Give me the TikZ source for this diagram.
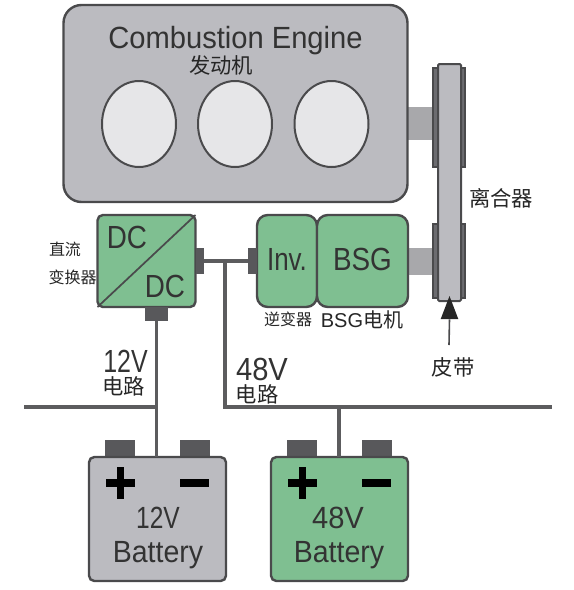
\documentclass[tikz,border=0pt]{standalone}
\usepackage{fontspec}
\usepackage{graphicx}
\usetikzlibrary{shapes.geometric}
\setmainfont{Liberation Sans}
\newfontfamily\cjk{Noto Sans CJK SC}
\newcommand{\sx}[2]{\scalebox{#1}[1]{#2}}
\definecolor{greyfill}{HTML}{BBBBC0}
\definecolor{greenfill}{HTML}{7FBF91}
\definecolor{edgec}{HTML}{4A4A4C}
\definecolor{shaftc}{HTML}{A8A8AB}
\definecolor{pulleyc}{HTML}{6C6C70}
\definecolor{termc}{HTML}{58585B}
\definecolor{labelc}{HTML}{333333}
\definecolor{cylc}{HTML}{E6E6E8}
\tikzset{
  sz/.style 2 args={minimum width=#1*0.75pt,minimum height=#2*0.75pt,inner sep=0pt,outer sep=0pt},
  greybox/.style={draw=edgec,line width=1.8pt,fill=greyfill},
  greenbox/.style={draw=edgec,line width=1.8pt,fill=greenfill},
  shaftbox/.style={draw=none,fill=shaftc},
  pulleybox/.style={draw=edgec,line width=0.8pt,fill=pulleyc},
  termbox/.style={draw=none,fill=termc},
  wire/.style={draw=edgec!90!white,line width=2.3pt},
  lat/.style={anchor=base,font=\fontsize{#1}{26}\selectfont,text=labelc,inner sep=0pt},
  zh/.style={font=\cjk\fontsize{16}{18}\selectfont,text=black!85,inner sep=0pt},
  zhs/.style={font=\cjk\fontsize{12}{14}\selectfont,text=black!85,inner sep=0pt},
  sign/.style={fill=black,draw=none,inner sep=0pt,outer sep=0pt},
}
\begin{document}
\begin{tikzpicture}[x=0.75pt,y=-0.75pt]
\useasboundingbox (0,0) rectangle (574,590);
% shafts
\node[shaftbox,sz={30}{33}] (shaftA) at (420,123.5) {};
\node[shaftbox,sz={30}{27}] (shaftB) at (420,261) {};
% pulleys
\node[pulleybox,sz={32}{99}] (pulleyA) at (449,117.5) {};
\node[pulleybox,sz={32}{74}] (pulleyB) at (449,261) {};
% belt
\node[greybox,line width=1.5pt,rounded corners=1pt,sz={23}{237}] (belt) at (449.5,182.5) {};
% engine
\node[greybox,rounded corners=13.5pt,sz={344}{197}] (engine) at (235.5,103.5) {};
\foreach \n/\x in {cylA/139,cylB/235,cylC/331.5}
  \node[draw=edgec,line width=1.5pt,fill=cylc,ellipse,sz={74}{86}] (\n) at (\x,124) {};
\node[lat=23] (engtxt) at (235.5,48) {\sx{0.95}{Combustion Engine}};
\node[zh] (engzh) at (221,65) {发动机};
% DC/DC
\node[greenbox,rounded corners=4pt,sz={98}{92}] (dc) at (146.5,261) {};
\draw[edgec,line width=1.3pt] (dc.south west) -- (dc.north east);
\node[lat=24] (dca) at (127,248) {\sx{0.87}{DC}};
\node[lat=24] (dcb) at (165,297) {\sx{0.87}{DC}};
\node[termbox,sz={8}{26}] (dcr) at (199.5,261) {};
\node[termbox,sz={23}{14}] (dcb2) at (156.5,314) {};
% inverter / BSG
\node[greenbox,rounded corners=8pt,sz={60}{92}] (inv) at (287,261) {};
\node[greenbox,rounded corners=8pt,sz={91}{92}] (bsg) at (362.5,261) {};
\node[lat=24] (invt) at (287,270) {\sx{0.81}{Inv.}};
\node[lat=24] (bsgt) at (362.5,270) {\sx{0.87}{BSG}};
\node[termbox,sz={9}{26}] (invl) at (252.5,261) {};
% wires
\coordinate (j48) at (225,261);
\coordinate (b48l) at (225,407);
\coordinate (b48r) at (552,407);
\coordinate (b12l) at (24,407);
\coordinate (b12j) at (157,407);
\coordinate (j48b) at (339,407);
\draw[wire] (dcr.east) -- (invl.west);
\draw[wire] (j48) -- (b48l) -- (b48r);
\draw[wire] (b12l) -- (b12j);
% terminals and batteries
\foreach \n/\x in {ta/120,tb/194.5,tc/302,td/376.5}
  \node[termbox,sz={30}{17}] (\n) at (\x,448.5) {};
\node[greybox,rounded corners=4pt,sz={137}{124}] (bat12) at (157.5,519) {};
\node[greenbox,rounded corners=4pt,sz={137}{124}] (bat48) at (339.5,519) {};
\draw[wire] (dcb2.south) -- (dcb2.south |- bat12.north);
\draw[wire] (j48b) -- (j48b |- bat48.north);
% signs
\foreach \n/\x in {pa/120.5,pb/302.5}{
  \node[sign,sz={29}{8}] (\n h) at (\x,483) {};
  \node[sign,sz={7}{32}] (\n v) at (\x,483) {};
}
\node[sign,sz={29}{8}] (ma) at (194.5,483) {};
\node[sign,sz={29}{8}] (mb) at (376,483) {};
% battery text
\node[lat=23] (t12) at (158,528) {\sx{0.8}{12V}};
\node[lat=23] (tb12) at (158,562) {\sx{0.93}{Battery}};
\node[lat=23] (t48) at (338,528) {\sx{0.95}{48V}};
\node[lat=23] (tb48) at (339,562) {\sx{0.93}{Battery}};
% circuit labels
\node[lat=24] (l12) at (125.5,372) {\sx{0.78}{12V}};
\node[zh] (l12z) at (124,386) {电路};
\node[lat=24] (l48) at (262,380) {\sx{0.91}{48V}};
\node[zh] (l48z) at (257,394) {电路};
% other labels
\node[zhs] (zla) at (65,249.5) {直流};
\node[zhs] (zlb) at (72.5,277) {变换器};
\node[zhs] (zinv) at (288,319) {逆变器};
\node[font=\fontsize{15}{17}\selectfont,text=black!85,inner sep=0pt] (zbsg) at (362,320) {BSG{\cjk 电机}};
\node[zh] (zcl) at (501,198) {离合器};
\node[zh] (zbelt) at (453,367) {皮带};
% arrow
\coordinate (atail) at (449,345);
\node[fill=black!85,draw=none,isosceles triangle,isosceles triangle apex angle=42,shape border rotate=90,inner sep=0pt,minimum height=0.75pt*23,minimum width=0.75pt*17] (ahead) at (449.5,313) {};
\draw[edgec,line width=1.2pt] (atail) -- (ahead.south);
\end{tikzpicture}
\end{document}
